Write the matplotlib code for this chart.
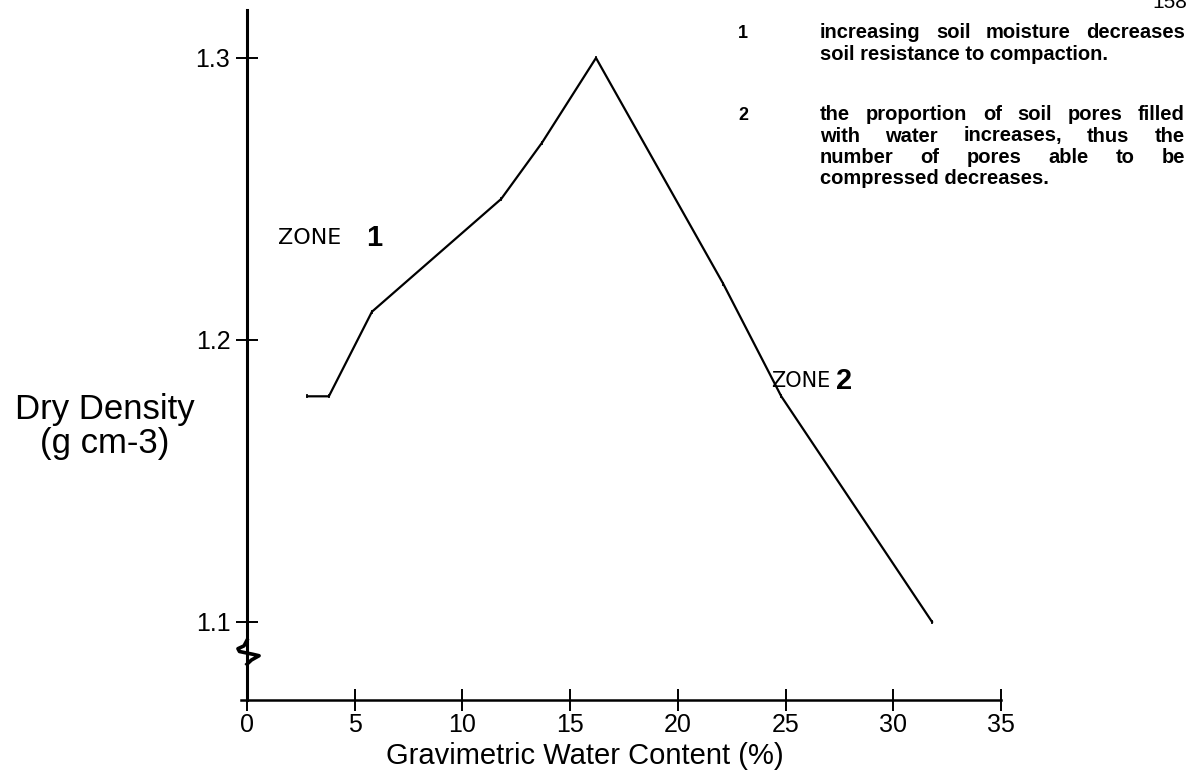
import numpy as np
import matplotlib.pyplot as plt
from matplotlib.transforms import blended_transform_factory

# data
water = [2.8, 3.8, 5.8, 11.8, 13.7, 16.2, 22.1, 24.8, 31.8]
density = [1.18, 1.18, 1.21, 1.25, 1.27, 1.30, 1.22, 1.18, 1.10]

xticks = [0, 5, 10, 15, 20, 25, 30, 35]
yticks = [1.1, 1.2, 1.3]

note1 = ["increasing soil moisture decreases",
         "soil resistance to compaction."]
note2 = ["the proportion of soil pores filled",
         "with water increases, thus the",
         "number of pores able to be",
         "compressed decreases."]

W, H = 1194, 778
plt.rcParams['font.family'] = ['Liberation Sans', 'DejaVu Sans']

fig = plt.figure(figsize=(W / 100, H / 100), dpi=100)
ax = fig.add_axes([247 / W, 1 - 700 / H, (1001 - 247) / W, 690 / H])


def px(x, y):
    return x / W, 1 - y / H


ax.plot(water, density, color='black', lw=1.6, marker='|', ms=3, mew=1.2)

ax.set_xlim(0, 35)
ax.set_ylim(1.0723, 1.317)
ax.set_xticks(xticks)
ax.set_yticks(yticks)
ax.set_yticklabels(["1.1", "1.2", "1.3"])
ax.tick_params(direction='inout', length=16, width=1.4, labelsize=18)
ax.tick_params(axis='y', pad=4)
ax.tick_params(axis='x', pad=1)
for s in ['top', 'right']:
    ax.spines[s].set_visible(False)
ax.spines['left'].set_linewidth(2.2)
ax.spines['bottom'].set_linewidth(1.8)
ax.spines['bottom'].set_bounds(-0.3, 35)

# axis break squiggle on the y axis
tr = blended_transform_factory(ax.transAxes, ax.transData)
sq_x = [0, -0.004, -0.012, -0.010, 0.008, 0.016, 0.006, 0.0]
sq_y = [1.0935, 1.0915, 1.0905, 1.0895, 1.0885, 1.0880, 1.0865, 1.0850]
ax.plot(sq_x, sq_y, color='black', lw=2.6, transform=tr, clip_on=False)

fig.text(*px(105, 409), "Dry Density", fontsize=25, ha='center', va='center')
fig.text(*px(105, 443), "(g cm-3)", fontsize=25, ha='center', va='center')
fig.text(*px(585, 756), "Gravimetric Water Content (%)", fontsize=21,
         ha='center', va='center')

fig.text(*px(278, 238), "ZONE", fontsize=16, ha='left', va='center',
         family='DejaVu Sans')
fig.text(*px(366, 238), "1", fontsize=21, fontweight='bold', ha='left', va='center')
fig.text(*px(771, 381), "ZONE", fontsize=15, ha='left', va='center',
         family='DejaVu Sans')
fig.text(*px(836, 381), "2", fontsize=21, fontweight='bold', ha='left', va='center')

fig.text(*px(1170, 2), "158", fontsize=15, ha='center', va='center')

fig.text(*px(743, 38), "1", fontsize=13, fontweight='bold', ha='center', va='baseline')
fig.text(*px(743, 120), "2", fontsize=13, fontweight='bold', ha='center', va='baseline')

renderer = fig.canvas.get_renderer()
left, right = 820, 1185
fs = 14.5


def justified(lines, y0, step=21.5):
    for i, line in enumerate(lines):
        y = y0 + i * step
        words = line.split()
        if i == len(lines) - 1:
            fig.text(*px(left, y), line, fontsize=fs, fontweight='bold',
                     ha='left', va='baseline')
            continue
        arts = [fig.text(0, 0, w, fontsize=fs, fontweight='bold', va='baseline')
                for w in words]
        widths = [a.get_window_extent(renderer).width for a in arts]
        gap = (right - left - sum(widths)) / (len(words) - 1)
        xpos = left
        for a, w in zip(arts, widths):
            a.set_position(px(xpos, y))
            xpos += w + gap


justified(note1, 38)
justified(note2, 120)

fig.savefig("out.png", dpi=100)
